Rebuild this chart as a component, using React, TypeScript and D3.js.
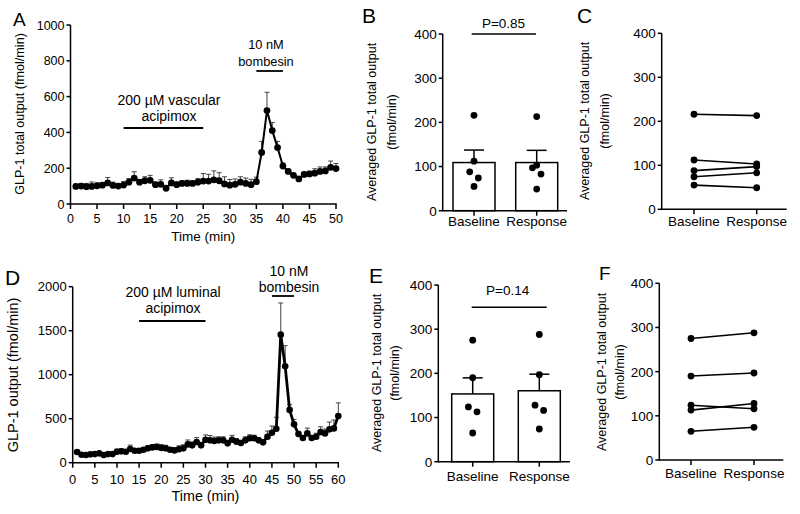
import React from 'react';
import * as d3 from 'd3';

const FONT = '"Liberation Sans", Arial, Helvetica, sans-serif';

// ---------- Panel A: vascular acipimox time course (min 1..50) ----------
const aMean = [98, 100, 97, 98, 102, 105, 118, 104, 100, 106,
  122, 145, 122, 130, 132, 108, 110, 88, 118, 108,
  115, 115, 115, 122, 128, 128, 135, 130, 112, 105,
  110, 122, 115, 108, 125, 288, 522, 410, 315, 212,
  182, 160, 140, 165, 168, 172, 182, 185, 205, 198];
const aSem = [12, 15, 18, 25, 15, 15, 30, 18, 12, 20,
  20, 35, 15, 22, 28, 14, 25, 12, 28, 15,
  15, 18, 14, 20, 42, 38, 50, 45, 40, 32,
  30, 30, 30, 30, 25, 62, 102, 45, 35, 18,
  12, 10, 10, 12, 15, 25, 25, 22, 35, 28];
const aYTicks = [0, 200, 400, 600, 800, 1000];
const aXTicks = [0, 5, 10, 15, 20, 25, 30, 35, 40, 45, 50];

// ---------- Panel D: luminal acipimox time course (min 1..60) ----------
const dMean = [121, 91, 87, 95, 98, 106, 87, 98, 98, 125,
  129, 125, 155, 136, 136, 148, 163, 174, 178, 167,
  163, 148, 140, 152, 163, 208, 197, 235, 197, 261,
  254, 246, 254, 254, 220, 261, 239, 224, 254, 277,
  277, 254, 231, 295, 341, 386, 1455, 1095, 600, 436,
  326, 280, 333, 280, 295, 348, 333, 379, 390, 530];
const dSem = [15, 15, 12, 15, 15, 15, 20, 15, 20, 30,
  30, 25, 45, 20, 25, 25, 30, 30, 35, 40,
  35, 25, 30, 40, 40, 50, 40, 50, 35, 55,
  55, 45, 40, 40, 35, 50, 35, 30, 40, 40,
  35, 30, 30, 65, 76, 130, 360, 235, 60, 56,
  30, 30, 60, 30, 40, 60, 50, 83, 95, 150];
const dYTicks = [0, 500, 1000, 1500, 2000];
const dXTicks = [0, 5, 10, 15, 20, 25, 30, 35, 40, 45, 50, 55, 60];

// ---------- Panels B/C (vascular) and E/F (luminal): per-animal averages ----------
const categories = ['Baseline', 'Response'];
const barYTicks = [0, 100, 200, 300, 400];
const vascBaseline = [216, 112, 88, 74, 55];
const vascResponse = [213, 103, 97, 83, 49];
const vascJitterBase = [0, 0, -1, 1, 0];
const vascJitterResp = [0, 0, -1, 1, 0];
const lumBaseline = [275, 190, 124, 113, 65];
const lumResponse = [288, 197, 116, 128, 74];
const lumJitterBase = [0, 0, -1, 1, 0];
const lumJitterResp = [0, 0, 1, -1, 0];
const pVasc = 'P=0.85';
const pLum = 'P=0.14';

const sem = (v: number[]) => (d3.deviation(v) as number) / Math.sqrt(v.length);

type Annot = { lines: string[]; from: number; to: number; barY: number; cx: number; baselines: number[]; size: number };

function TimePanel(p: any) {
  const x = d3.scaleLinear().domain([0, p.xMax]).range([p.x0, p.x1]);
  const y = d3.scaleLinear().domain([0, p.yMax]).range([p.yBottom, p.yTop]);
  const pts = p.means.map((m: number, i: number) => ({ t: i + 1, m, s: p.sems[i] }));
  const line = d3.line<any>().x(d => x(d.t)).y(d => y(d.m));
  return (
    <g fontFamily={FONT}>
      <line x1={p.x0} x2={p.x0} y1={p.yBottom + 0.75} y2={p.yTop} stroke="#000" strokeWidth={1.5} />
      <line x1={p.x0} x2={p.x1 + 0.75} y1={p.yBottom} y2={p.yBottom} stroke="#000" strokeWidth={1.5} />
      {p.yTicks.map((v: number) => (
        <g key={'y' + v}>
          <line x1={p.x0 - 4} x2={p.x0} y1={y(v)} y2={y(v)} stroke="#000" strokeWidth={1.5} />
          <text x={p.x0 - 6} y={y(v)} dy="0.36em" textAnchor="end" fontSize={p.tickSize}>{v}</text>
        </g>
      ))}
      {p.xTicks.map((v: number) => (
        <g key={'x' + v}>
          <line x1={x(v)} x2={x(v)} y1={p.yBottom} y2={p.yBottom + 5} stroke="#000" strokeWidth={1.5} />
          <text x={x(v)} y={p.xLabelY} textAnchor="middle" fontSize={p.tickSize}>{v}</text>
        </g>
      ))}
      <text x={(p.x0 + p.x1) / 2} y={p.xTitleY} textAnchor="middle" fontSize={p.titleSize}>Time (min)</text>
      <text transform={`translate(${p.yTitleX},${p.yTitleCy}) rotate(-90)`} textAnchor="middle" fontSize={p.yTitleSize}>{p.yTitle}</text>
      {pts.map((d: any) => (
        <g key={'e' + d.t} stroke="#444" strokeWidth={1}>
          <line x1={x(d.t)} x2={x(d.t)} y1={y(d.m)} y2={y(d.m + d.s)} />
          <line x1={x(d.t) - 2.5} x2={x(d.t) + 2.5} y1={y(d.m + d.s)} y2={y(d.m + d.s)} />
        </g>
      ))}
      <path d={line(pts) as string} fill="none" stroke="#000" strokeWidth={p.lineW} strokeLinejoin="round" />
      {pts.map((d: any) => (
        <circle key={'c' + d.t} cx={x(d.t)} cy={y(d.m)} r={p.r} fill="#000" />
      ))}
      {p.annots.map((a: Annot, i: number) => (
        <g key={'a' + i}>
          {a.lines.map((s, j) => (
            <text key={j} x={a.cx} y={a.baselines[j]} textAnchor="middle" fontSize={a.size}>{s}</text>
          ))}
          <line x1={x(a.from)} x2={x(a.to)} y1={a.barY} y2={a.barY} stroke="#000" strokeWidth={1.8} />
        </g>
      ))}
      <text x={p.letter[0]} y={p.letter[1]} fontSize={p.letter[2]}>{p.letter[3]}</text>
    </g>
  );
}

function AxisFrame(p: any) {
  const y = d3.scaleLinear().domain([0, 400]).range([p.yBottom, p.yTop]);
  const x = d3.scalePoint().domain(categories).range(p.cats);
  return (
    <g>
      <line x1={p.axisX} x2={p.axisX} y1={p.yBottom + 0.75} y2={p.yTop} stroke="#000" strokeWidth={1.5} />
      <line x1={p.axisX} x2={p.xEnd} y1={p.yBottom} y2={p.yBottom} stroke="#000" strokeWidth={1.5} />
      {barYTicks.map(v => (
        <g key={'t' + v}>
          <line x1={p.axisX - 4} x2={p.axisX} y1={y(v)} y2={y(v)} stroke="#000" strokeWidth={1.5} />
          <text x={p.axisX - 6} y={y(v)} dy="0.36em" textAnchor="end" fontSize={13.5}>{v}</text>
        </g>
      ))}
      {categories.map(c => (
        <g key={c}>
          <line x1={x(c)} x2={x(c)} y1={p.yBottom} y2={p.yBottom + 5} stroke="#000" strokeWidth={1.5} />
          <text x={x(c)} y={p.catY} textAnchor="middle" fontSize={13.5}>{c}</text>
        </g>
      ))}
      <text transform={`translate(${p.titleX[0]},${p.titleCy}) rotate(-90)`} textAnchor="middle" fontSize={12.5}>Averaged GLP-1 total output</text>
      <text transform={`translate(${p.titleX[1]},${p.titleCy}) rotate(-90)`} textAnchor="middle" fontSize={12.5}>(fmol/min)</text>
      <text x={p.letter[0]} y={p.letter[1]} fontSize={p.letter[2]}>{p.letter[3]}</text>
    </g>
  );
}

function BarPanel(p: any) {
  const y = d3.scaleLinear().domain([0, 400]).range([p.yBottom, p.yTop]);
  const x = d3.scalePoint().domain(categories).range(p.cats);
  const groups = [
    { c: categories[0], v: p.base, j: p.jBase },
    { c: categories[1], v: p.resp, j: p.jResp },
  ];
  const bw = 42;
  return (
    <g fontFamily={FONT}>
      {groups.map(g => {
        const m = d3.mean(g.v) as number;
        const s = sem(g.v);
        const cx = x(g.c) as number;
        return (
          <g key={g.c}>
            <rect x={cx - bw / 2} y={y(m)} width={bw} height={y(0) - y(m)} fill="#fff" stroke="#000" strokeWidth={1.5} />
            <line x1={cx} x2={cx} y1={y(m)} y2={y(m + s)} stroke="#000" strokeWidth={1.5} />
            <line x1={cx - 10} x2={cx + 10} y1={y(m + s)} y2={y(m + s)} stroke="#000" strokeWidth={1.5} />
            {g.v.map((v: number, i: number) => (
              <circle key={i} cx={cx + g.j[i] * 4.3} cy={y(v)} r={3.4} fill="#000" />
            ))}
          </g>
        );
      })}
      <AxisFrame {...p} />
      <text x={p.pText[0]} y={p.pText[1]} textAnchor="middle" fontSize={13.5}>{p.pLabel}</text>
      <line x1={p.pLine[0]} x2={p.pLine[1]} y1={p.pLine[2]} y2={p.pLine[2]} stroke="#000" strokeWidth={1.5} />
    </g>
  );
}

function PairPanel(p: any) {
  const y = d3.scaleLinear().domain([0, 400]).range([p.yBottom, p.yTop]);
  const x = d3.scalePoint().domain(categories).range(p.cats);
  return (
    <g fontFamily={FONT}>
      <AxisFrame {...p} />
      {p.base.map((b: number, i: number) => (
        <g key={i}>
          <line x1={x(categories[0])} x2={x(categories[1])} y1={y(b)} y2={y(p.resp[i])} stroke="#000" strokeWidth={1.6} />
          <circle cx={x(categories[0])} cy={y(b)} r={3.4} fill="#000" />
          <circle cx={x(categories[1])} cy={y(p.resp[i])} r={3.4} fill="#000" />
        </g>
      ))}
    </g>
  );
}

export default function App() {
  return (
    <svg width={800} height={514} style={{ display: 'block', position: 'absolute', left: 0, top: 0, background: '#fff' }}>
      <rect width={800} height={514} fill="#fff" />
      <TimePanel
        x0={70.5} x1={336} yTop={25} yBottom={204} xMax={50} yMax={1000}
        means={aMean} sems={aSem} yTicks={aYTicks} xTicks={aXTicks}
        tickSize={12.5} titleSize={13.5} xLabelY={223} xTitleY={241}
        yTitle="GLP-1 total output (fmol/min)" yTitleX={24} yTitleCy={114} yTitleSize={12.6}
        lineW={2} r={3.4}
        annots={[
          { lines: ['200 µM vascular', 'acipimox'], from: 10, to: 25, barY: 128, cx: 169, baselines: [105, 121], size: 14 },
          { lines: ['10 nM', 'bombesin'], from: 35, to: 40, barY: 71, cx: 266, baselines: [49, 66], size: 12.8 },
        ]}
        letter={[13, 26, 19, 'A']}
      />
      <TimePanel
        x0={72.7} x1={338.3} yTop={286.7} yBottom={462.7} xMax={60} yMax={2000}
        means={dMean} sems={dSem} yTicks={dYTicks} xTicks={dXTicks}
        tickSize={13} titleSize={14.3} xLabelY={484} xTitleY={501}
        yTitle="GLP-1 output (fmol/min)" yTitleX={18} yTitleCy={375} yTitleSize={14.5}
        lineW={2.8} r={3.3}
        annots={[
          { lines: ['200 µM luminal', 'acipimox'], from: 15, to: 30, barY: 321, cx: 173, baselines: [297, 313], size: 14 },
          { lines: ['10 nM', 'bombesin'], from: 45, to: 50, barY: 296, cx: 289, baselines: [276, 292], size: 14 },
        ]}
        letter={[5, 285, 21, 'D']}
      />
      <BarPanel
        axisX={442.7} yTop={34} yBottom={210.7} xEnd={567} cats={[474, 536.7]} catY={226}
        base={vascBaseline} resp={vascResponse} jBase={vascJitterBase} jResp={vascJitterResp}
        titleX={[376, 396]} titleCy={122} letter={[362, 23, 21, 'B']}
        pLabel={pVasc} pText={[503.5, 28]} pLine={[471.7, 536, 34]}
      />
      <PairPanel
        axisX={661.7} yTop={33.3} yBottom={209.3} xEnd={786.7} cats={[694, 756.7]} catY={226}
        base={vascBaseline} resp={vascResponse}
        titleX={[589, 609]} titleCy={121} letter={[577, 23, 21, 'C']}
      />
      <BarPanel
        axisX={438.3} yTop={285} yBottom={461.7} xEnd={570} cats={[472.7, 539.3]} catY={481}
        base={lumBaseline} resp={lumResponse} jBase={lumJitterBase} jResp={lumJitterResp}
        titleX={[381, 399]} titleCy={373} letter={[369, 283, 21, 'E']}
        pLabel={pLum} pText={[507.7, 295]} pLine={[471.7, 546.7, 307.3]}
      />
      <PairPanel
        axisX={659.3} yTop={283.3} yBottom={460} xEnd={783.3} cats={[691, 754]} catY={478}
        base={lumBaseline} resp={lumResponse}
        titleX={[606, 624]} titleCy={372} letter={[599, 280, 19, 'F']}
      />
    </svg>
  );
}
